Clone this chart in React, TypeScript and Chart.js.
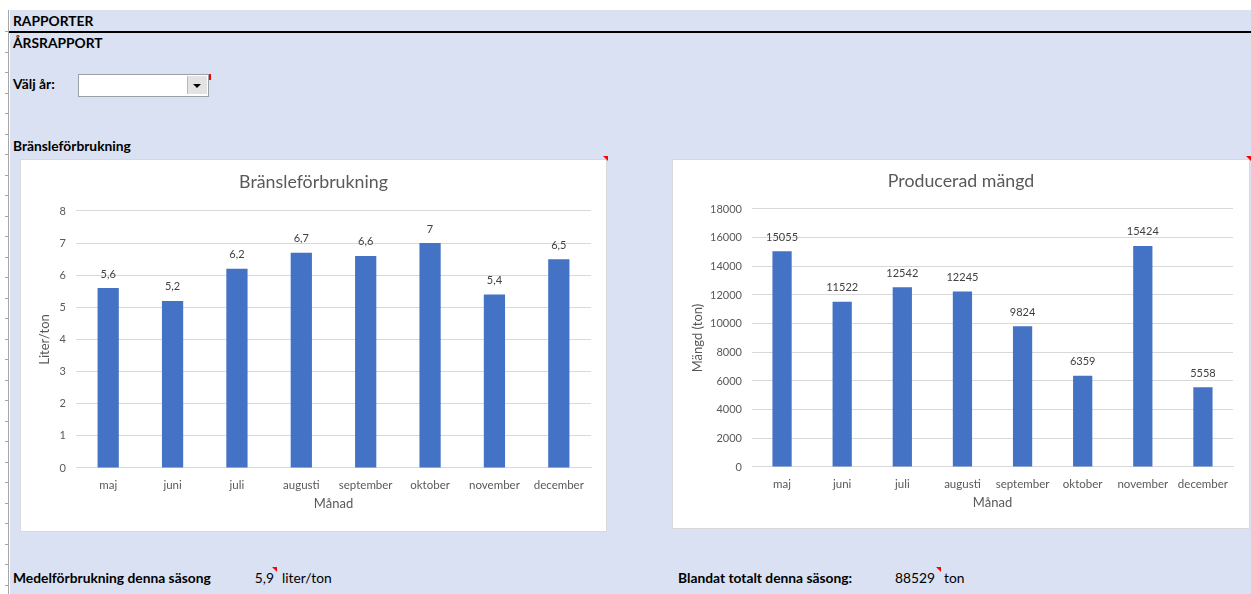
import React, { useEffect, useRef } from "react";
import { Chart, registerables } from "chart.js";

Chart.register(...registerables);

// ---------- data ----------
const months = ["maj", "juni", "juli", "augusti", "september", "oktober", "november", "december"];
const fuelValues = [5.6, 5.2, 6.2, 6.7, 6.6, 7, 5.4, 6.5];
const producedValues = [15055, 11522, 12542, 12245, 9824, 6359, 15424, 5558];
const fuelAxis = [0, 8, 1]; // min, max, step
const producedAxis = [0, 18000, 2000];
const averageFuel = "5,9";
const totalProduced = "88529";

const FONT = "Lato, 'Noto Sans', sans-serif";
const GRAY = "#595959";
const BAR = "#4472C4";
const BG = "#D9E1F2";

const fmt = (v: number) => String(v).replace(".", ",");

const valueLabels = {
  id: "valueLabels",
  afterDatasetsDraw(chart: any) {
    const { ctx } = chart;
    const meta = chart.getDatasetMeta(0);
    const data = chart.data.datasets[0].data as number[];
    ctx.save();
    ctx.font = `11px ${FONT}`;
    ctx.fillStyle = "#404040";
    ctx.textAlign = "center";
    ctx.textBaseline = "middle";
    meta.data.forEach((bar: any, i: number) => {
      ctx.fillText(fmt(data[i]), bar.x, bar.y - 14);
    });
    ctx.restore();
  },
};

type Layout = {
  padSide: number;
  titleTop: number;
  titleBottom: number;
  xHeight: number;
  xTitleBottom: number;
  yWidth: number;
  yTitleTop: number;
  barPct: number;
};

function BarChart(props: {
  width: number;
  height: number;
  title: string;
  yTitle: string;
  labels: string[];
  values: number[];
  axis: number[];
  layout: Layout;
}) {
  const ref = useRef<HTMLCanvasElement>(null);
  useEffect(() => {
    const { title, yTitle, labels, values, axis, layout } = props;
    const chart = new Chart(ref.current as HTMLCanvasElement, {
      type: "bar",
      data: {
        labels,
        datasets: [
          {
            data: values,
            backgroundColor: BAR,
            barPercentage: layout.barPct,
            categoryPercentage: 1,
          },
        ],
      },
      options: {
        responsive: false,
        animation: false,
        devicePixelRatio: 1,
        layout: { padding: { left: layout.padSide, right: layout.padSide, top: 0, bottom: 0 } },
        plugins: {
          legend: { display: false },
          tooltip: { enabled: false },
          title: {
            display: true,
            text: title,
            color: GRAY,
            font: { family: FONT, size: 17.8, weight: "normal" },
            padding: { top: layout.titleTop, bottom: layout.titleBottom },
          },
        },
        scales: {
          x: {
            grid: { display: false, drawTicks: false },
            border: { display: true, color: "#D9D9D9" },
            ticks: {
              color: GRAY,
              font: { family: FONT, size: 11.5 },
              padding: 10,
              maxRotation: 0,
              autoSkip: false,
            },
            title: {
              display: true,
              text: "Månad",
              color: GRAY,
              font: { family: FONT, size: 13 },
              padding: { top: 0, bottom: layout.xTitleBottom },
            },
            afterFit: (s: any) => {
              s.height = layout.xHeight;
            },
          },
          y: {
            min: axis[0],
            max: axis[1],
            ticks: {
              stepSize: axis[2],
              color: GRAY,
              font: { family: FONT, size: 11 },
              padding: 10,
              callback: (v: any) => String(v),
            },
            grid: { color: "#D9D9D9", drawTicks: false },
            border: { display: false },
            title: {
              display: true,
              text: yTitle,
              color: GRAY,
              font: { family: FONT, size: 13 },
              padding: { top: layout.yTitleTop, bottom: 0 },
            },
            afterFit: (s: any) => {
              s.width = layout.yWidth;
            },
          },
        },
      } as any,
      plugins: [valueLabels],
    });
    return () => chart.destroy();
  }, []);
  return (
    <canvas
      ref={ref}
      width={props.width}
      height={props.height}
      style={{ display: "block", width: props.width, height: props.height }}
    />
  );
}

const abs = (x: number, y: number, extra: React.CSSProperties = {}): React.CSSProperties => ({
  position: "absolute",
  left: x,
  top: y,
  ...extra,
});

const sheetText = (bold: boolean): React.CSSProperties => ({
  fontFamily: FONT,
  fontSize: 13.8,
  fontWeight: bold ? 700 : 400,
  color: "#000",
  lineHeight: "16px",
  whiteSpace: "nowrap",
});

function RedMark({ x, y }: { x: number; y: number }) {
  return (
    <div
      style={abs(x, y, {
        width: 0,
        height: 0,
        borderTop: "5px solid #FF0000",
        borderLeft: "5px solid transparent",
      })}
    />
  );
}

export default function App() {
  const rowTicks: number[] = [];
  for (let y = 31; y < 594; y += 20.5) rowTicks.push(Math.round(y));

  return (
    <div style={abs(0, 0, { width: 1251, height: 594, background: "#fff", overflow: "hidden" })}>
      <div style={abs(10, 10, { width: 1241, height: 584, background: BG })} />
      <div style={abs(8, 10, { width: 1, height: 584, background: "#A6A6A6" })} />
      {rowTicks.map((y) => (
        <div key={y} style={abs(5, y, { width: 3, height: 1, background: "#A6A6A6" })} />
      ))}

      <div style={abs(13, 13, sheetText(true))}>RAPPORTER</div>
      <div style={abs(9, 31, { width: 1242, height: 2, background: "#000" })} />
      <div style={abs(13, 35, sheetText(true))}>ÅRSRAPPORT</div>
      <div style={abs(13, 76, sheetText(true))}>Välj år:</div>

      {/* dropdown */}
      <div
        style={abs(78, 74, {
          width: 129,
          height: 21,
          background: "#fff",
          border: "1px solid #9A9FA8",
        })}
      />
      <div
        style={abs(187, 76, {
          width: 19,
          height: 18,
          background: "#E3E3E3",
          borderLeft: "1px solid #B8B8B8",
        })}
      />
      <div
        style={abs(193, 84, {
          width: 0,
          height: 0,
          borderLeft: "4px solid transparent",
          borderRight: "4px solid transparent",
          borderTop: "4px solid #000",
        })}
      />
      <div style={abs(209, 74, { width: 2, height: 6, background: "#FF0000" })} />

      <div style={abs(13, 138, sheetText(true))}>Bränsleförbrukning</div>

      {/* chart 1 */}
      <div style={abs(21, 160, { width: 585, height: 371, background: "#fff", boxShadow: "0 0 0 1px #D9D9D9" })}>
        <BarChart
          width={585}
          height={371}
          title="Bränsleförbrukning"
          yTitle="Liter/ton"
          labels={months}
          values={fuelValues}
          axis={fuelAxis}
          layout={{
            padSide: 15,
            titleTop: 12,
            titleBottom: 17.6,
            xHeight: 63,
            xTitleBottom: 19.2,
            yWidth: 40,
            yTitleTop: 1,
            barPct: 0.33,
          }}
        />
      </div>
      <RedMark x={603} y={156} />

      {/* chart 2 */}
      <div style={abs(673, 160, { width: 576, height: 368, background: "#fff", boxShadow: "0 0 0 1px #D9D9D9" })}>
        <BarChart
          width={576}
          height={368}
          title="Producerad mängd"
          yTitle="Mängd (ton)"
          labels={months}
          values={producedValues}
          axis={producedAxis}
          layout={{
            padSide: 16,
            titleTop: 11,
            titleBottom: 16.6,
            xHeight: 61,
            xTitleBottom: 17.2,
            yWidth: 63,
            yTitleTop: 1,
            barPct: 0.32,
          }}
        />
      </div>
      <RedMark x={1246} y={156} />

      {/* bottom summary */}
      <div style={abs(13, 570, sheetText(true))}>Medelförbrukning denna säsong</div>
      <div style={abs(200, 570, { ...sheetText(false), width: 74, textAlign: "right" })}>{averageFuel}</div>
      <RedMark x={272} y={567} />
      <div style={abs(282, 570, sheetText(false))}>liter/ton</div>

      <div style={abs(678, 570, sheetText(true))}>Blandat totalt denna säsong:</div>
      <div style={abs(860, 570, { ...sheetText(false), width: 75, textAlign: "right" })}>{totalProduced}</div>
      <RedMark x={936} y={567} />
      <div style={abs(944, 570, sheetText(false))}>ton</div>
    </div>
  );
}
